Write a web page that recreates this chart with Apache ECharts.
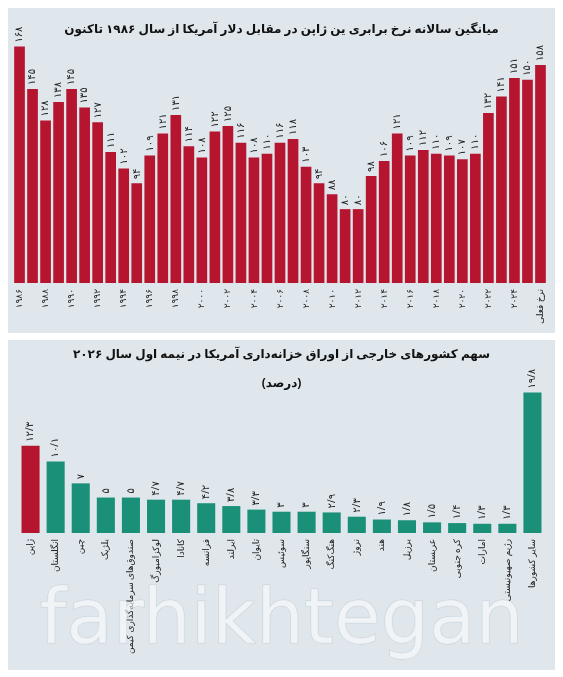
<!DOCTYPE html>
<html><head><meta charset="utf-8">
<script src="https://cdn.jsdelivr.net/npm/echarts@6/dist/echarts.min.js"></script>
<style>html,body{margin:0;padding:0;background:#fff}#c{width:563px;height:677px}</style>
</head><body><div id="c"></div>
<script>
const years = ['۱۹۸۶','۱۹۸۷','۱۹۸۸','۱۹۸۹','۱۹۹۰','۱۹۹۱','۱۹۹۲','۱۹۹۳','۱۹۹۴','۱۹۹۵','۱۹۹۶','۱۹۹۷','۱۹۹۸','۱۹۹۹','۲۰۰۰','۲۰۰۱','۲۰۰۲','۲۰۰۳','۲۰۰۴','۲۰۰۵','۲۰۰۶','۲۰۰۷','۲۰۰۸','۲۰۰۹','۲۰۱۰','۲۰۱۱','۲۰۱۲','۲۰۱۳','۲۰۱۴','۲۰۱۵','۲۰۱۶','۲۰۱۷','۲۰۱۸','۲۰۱۹','۲۰۲۰','۲۰۲۱','۲۰۲۲','۲۰۲۳','۲۰۲۴','۲۰۲۵','نرخ فعلی'];
const yenRate = [168,145,128,138,145,135,127,111,102,94,109,121,131,114,108,122,125,116,108,110,116,118,103,94,88,80,80,98,106,121,109,112,110,109,107,110,132,141,151,150,158];
const countries = ['ژاپن','انگلستان','چین','بلژیک','صندوق‌های سرمایه‌گذاری کیمن','لوکزامبورگ','کانادا','فرانسه','ایرلند','تایوان','سوئیس','سنگاپور','هنگ‌کنگ','نروژ','هند','برزیل','عربستان','کره جنوبی','امارات','رژیم صهیونیستی','سایر کشورها'];
const shares = [12.3,10.1,7,5,5,4.7,4.7,4.2,3.8,3.3,3,3,2.9,2.3,1.9,1.8,1.5,1.4,1.3,1.3,19.8];

const fa = n => String(n).replace('.', '/').replace(/[0-9]/g, d => '۰۱۲۳۴۵۶۷۸۹'[d]);
const FONT = '"Noto Sans", "DejaVu Sans", sans-serif';
const chart = echarts.init(document.getElementById('c'));
chart.setOption({
  backgroundColor: '#ffffff',
  animation: false,
  textStyle: {fontFamily: FONT},
  graphic: [
    {type:'rect', z:-10, shape:{x:8,y:8,width:547,height:325}, style:{fill:'#dfe7ed'}},
    {type:'rect', z:-10, shape:{x:8,y:340,width:547,height:330}, style:{fill:'#dfe7ed'}},
    {type:'text', left:'center', top:24, style:{text:'میانگین سالانه نرخ برابری ین ژاپن در مقابل دلار آمریکا از سال ۱۹۸۶ تاکنون', font:'bold 12px '+FONT, fill:'#111'}},
    {type:'text', left:'center', top:349, style:{text:'سهم کشورهای خارجی از اوراق خزانه‌داری آمریکا در نیمه اول سال ۲۰۲۶', font:'bold 12px '+FONT, fill:'#111'}},
    {type:'text', left:'center', top:378, style:{text:'(درصد)', font:'bold 12px '+FONT, fill:'#111'}},
    {type:'text', left:'center', top:585, z:100, style:{text:'farhikhtegan', font:'76px "DejaVu Sans", sans-serif', fill:'rgba(255,255,255,0.55)', stroke:'rgba(180,192,204,0.5)', lineWidth:1}}
  ],
  grid: [
    {left:13, right:16, top:30, height:253},
    {left:18, right:18, top:377, height:156}
  ],
  xAxis: [
    {gridIndex:0, type:'category', data:years, axisLine:{show:false}, axisTick:{show:false},
     axisLabel:{interval:1, rotate:90, fontSize:9, color:'#222', margin:6}},
    {gridIndex:1, type:'category', data:countries, axisLine:{show:false}, axisTick:{show:false},
     axisLabel:{interval:0, rotate:90, fontSize:9, color:'#222', margin:6}}
  ],
  yAxis: [
    {gridIndex:0, type:'value', min:40, max:177, show:false},
    {gridIndex:1, type:'value', min:0, max:22, show:false}
  ],
  series: [
    {type:'bar', xAxisIndex:0, yAxisIndex:0, data:yenRate, barCategoryGap:'18%',
     itemStyle:{color:'#b5152f'},
     label:{show:true, position:'top', rotate:90, align:'left', verticalAlign:'middle', distance:4, fontSize:10, color:'#222', formatter:p=>fa(p.value)}},
    {type:'bar', xAxisIndex:1, yAxisIndex:1, barCategoryGap:'28%',
     data:shares.map((v,i)=>({value:v, itemStyle:{color:i===0?'#b5152f':'#1a9078'}})),
     label:{show:true, position:'top', rotate:90, align:'left', verticalAlign:'middle', distance:4, fontSize:10, color:'#222', formatter:p=>fa(p.value)}}
  ]
});
</script></body></html>
